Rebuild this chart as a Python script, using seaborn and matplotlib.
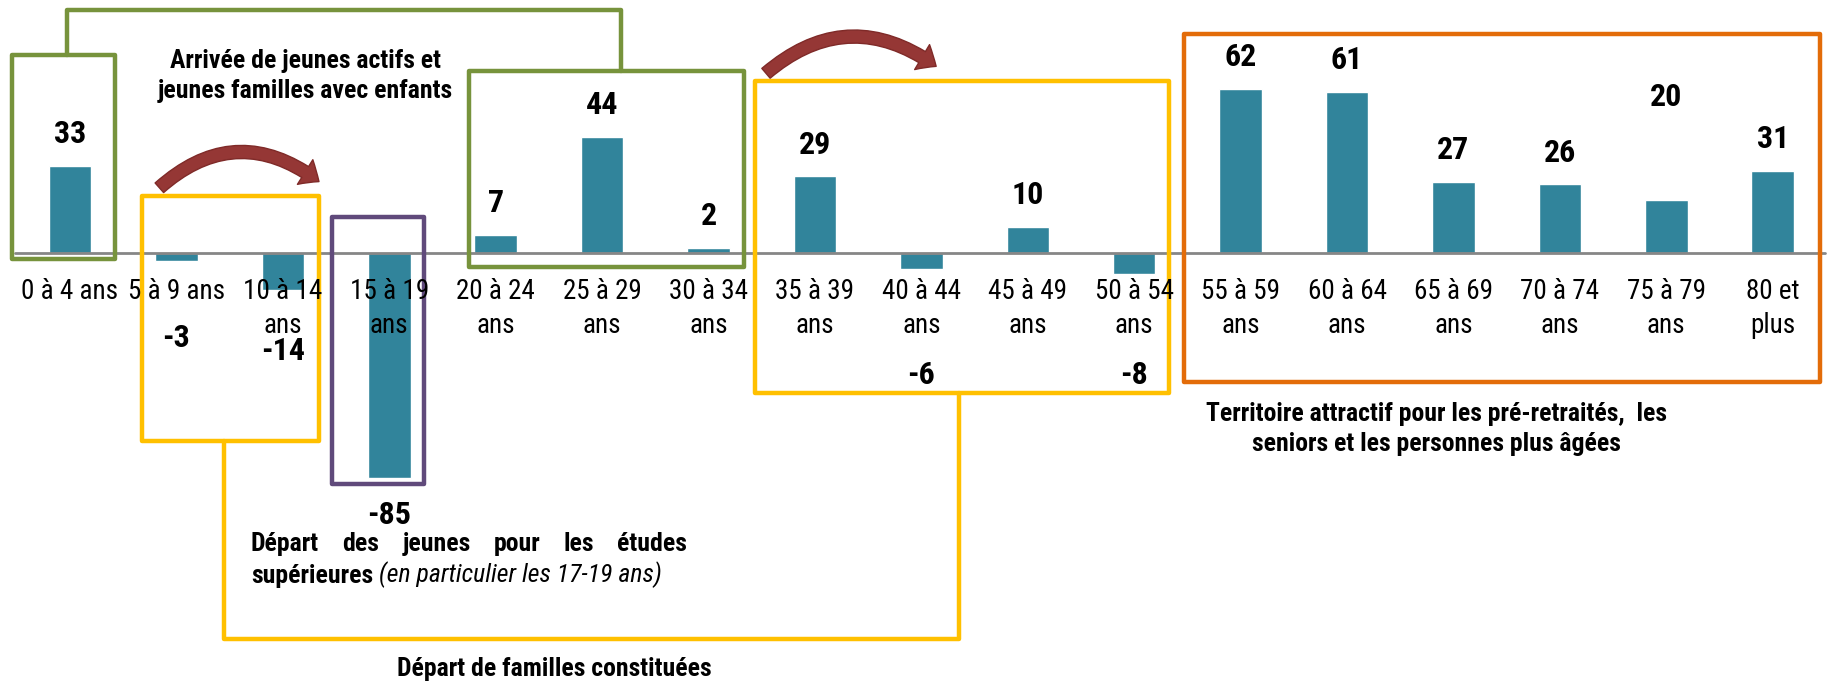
import matplotlib
matplotlib.use("Agg")
import matplotlib.pyplot as plt
import seaborn as sns
import pandas as pd
from matplotlib import font_manager
from matplotlib.patches import FancyArrowPatch, Rectangle
from matplotlib.lines import Line2D

# ---------------- data ----------------
categories = ["0 à 4 ans", "5 à 9 ans", "10 à 14\nans", "15 à 19\nans", "20 à 24\nans",
              "25 à 29\nans", "30 à 34\nans", "35 à 39\nans", "40 à 44\nans", "45 à 49\nans",
              "50 à 54\nans", "55 à 59\nans", "60 à 64\nans", "65 à 69\nans", "70 à 74\nans",
              "75 à 79\nans", "80 et\nplus"]
values = [33, -3, -14, -85, 7, 44, 2, 29, -6, 10, -8, 62, 61, 27, 26, 20, 31]
value_labels = ["33", "-3", "-14", "-85", "7", "44", "2", "29", "-6", "10", "-8",
                "62", "61", "27", "26", "20", "31"]
# vertical placement of each value label (data units), as in the original layout
label_y = [45, -32, -37, -99, 19, 56, 14, 41, -46, 22, -46, 74, 73, 39, 38, 59, 43]

# ---------------- style ----------------
sns.set_theme(style="white")
avail = {f.name for f in font_manager.fontManager.ttflist}
FONT = "DejaVu Sans"
scale = 0.85
for cand, sc in [("Liberation Sans Narrow", 0.98), ("Roboto Condensed", 1.0),
                 ("Open Sans Condensed", 1.0), ("Lato", 0.9)]:
    if cand in avail:
        FONT, scale = cand, sc
        break
plt.rcParams["font.family"] = [FONT, "DejaVu Sans"]
plt.rcParams["text.color"] = "black"

BAR = "#31849B"
GREEN = "#77933C"
YELLOW = "#FFC000"
PURPLE = "#604A7B"
ORANGE = "#E36C09"
RED = "#953735"

fig = plt.figure(figsize=(18.27, 6.81), dpi=100)
ax = fig.add_axes([0, 0, 1, 1])

df = pd.DataFrame({"cat": categories, "val": values})
sns.barplot(data=df, x="cat", y="val", order=categories, color=BAR, saturation=1,
            width=0.4, ax=ax, errorbar=None)

ax.set_xlim(-0.658, 16.51)
ax.set_ylim(-161.8, 95.7)
for s in ax.spines.values():
    s.set_visible(False)
ax.set_yticks([])
ax.set_xlabel("")
ax.set_ylabel("")
ax.axhline(0, xmin=0.008, xmax=0.999, color="#868686", lw=2, zorder=1)
ax.tick_params(axis="x", length=0, pad=0)
ax.set_xticks(range(len(categories)))
ax.set_xticklabels([])

TICK_FS = 19.5 * scale
for i, c in enumerate(categories):
    ax.text(i, -9.5, c, ha="center", va="top", fontsize=TICK_FS, color="black",
            linespacing=1.3, zorder=5)

VAL_FS = 23 * scale
for i, (lab, y) in enumerate(zip(value_labels, label_y)):
    ax.text(i, y, lab, ha="center", va="center", fontsize=VAL_FS,
            fontweight="bold", color="black", zorder=6)

# ---------------- annotation frames ----------------
def box(x0, x1, y0, y1, color):
    ax.add_patch(Rectangle((x0, y0), x1 - x0, y1 - y0, fill=False, ec=color,
                           lw=3.2, zorder=4, joinstyle="round"))

def path(xs, ys, color):
    ax.add_line(Line2D(xs, ys, color=color, lw=3.2, zorder=4,
                       solid_joinstyle="round", solid_capstyle="round"))

box(-0.548, 0.427, -2.2, 74.9, GREEN)
box(3.75, 6.33, -5.3, 68.7, GREEN)
path([-0.033, -0.033, 5.18, 5.18], [74.9, 92.1, 92.1, 68.7], GREEN)

box(0.68, 2.34, -70.9, 21.6, YELLOW)
box(6.44, 10.33, -52.9, 65.2, YELLOW)
path([1.45, 1.45, 8.35, 8.35], [-70.9, -145.8, -145.8, -52.9], YELLOW)

box(2.46, 3.33, -87.2, 13.7, PURPLE)
box(10.47, 16.44, -48.9, 82.8, ORANGE)

for (xa, ya), (xb, yb), rad in [((0.82, 24.0), (2.36, 26.4), -0.42),
                                ((6.52, 67.3), (8.16, 70.0), -0.40)]:
    arr = FancyArrowPatch((xa, ya), (xb, yb), connectionstyle=f"arc3,rad={rad}",
                          arrowstyle="simple,head_length=0.55,head_width=0.95,tail_width=0.42",
                          mutation_scale=22, fc=RED, ec="#7F2A28", lw=1, zorder=6)
    ax.add_patch(arr)

# ---------------- texts ----------------
ANN_FS = 18.5 * scale
ax.text(2.21, 67, "Arrivée de jeunes actifs et\njeunes familles avec enfants",
        ha="center", va="center", fontsize=ANN_FS, fontweight="bold",
        linespacing=1.35, color="black", zorder=6)
ax.text(4.55, -157.3, "Départ de familles constituées", ha="center", va="center",
        fontsize=ANN_FS, fontweight="bold", color="black", zorder=6)
ax.text(12.84, -66.5, "Territoire attractif pour les pré-retraités,  les\nseniors et les personnes plus âgées",
        ha="center", va="center", fontsize=ANN_FS, fontweight="bold",
        linespacing=1.35, color="black", zorder=6)

# justified first line
words = ["Départ", "des", "jeunes", "pour", "les", "études"]
x_left, x_right, y1 = 1.70, 5.80, -110
wtexts = [ax.text(x_left, y1, w, ha="left", va="center", fontsize=ANN_FS,
                  fontweight="bold", color="black", zorder=6) for w in words]
fig.canvas.draw()
r = fig.canvas.get_renderer()
widths = [t.get_window_extent(r).width for t in wtexts]
px_left = ax.transData.transform((x_left, 0))[0]
px_right = ax.transData.transform((x_right, 0))[0]
gap = (px_right - px_left - sum(widths)) / (len(words) - 1)
cur = px_left
inv = ax.transData.inverted()
for t, w in zip(wtexts, widths):
    t.set_x(inv.transform((cur, 0))[0])
    cur += w + gap

t2 = ax.text(x_left, -122, "supérieures", ha="left", va="center", fontsize=ANN_FS,
             fontweight="bold", color="black", zorder=6)
ax.annotate(" (en particulier les 17-19 ans)", xy=(1, 0), xycoords=t2,
            ha="left", va="bottom", fontsize=ANN_FS, fontstyle="italic",
            color="black", zorder=6)

fig.savefig("out.png", dpi=100)
